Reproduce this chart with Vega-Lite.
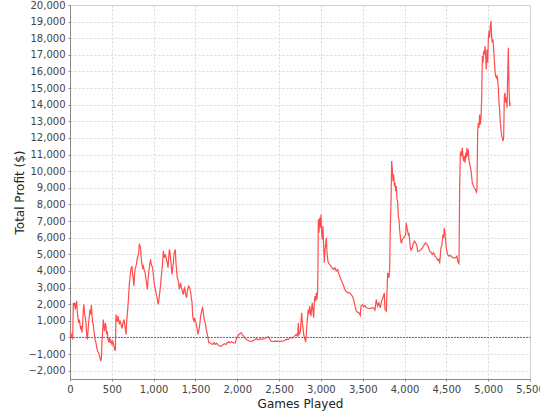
{
  "$schema": "https://vega.github.io/schema/vega-lite/v6.json",
  "width": 460,
  "height": 374,
  "autosize": {"type": "none"},
  "padding": {"left": 70, "top": 5, "right": 10, "bottom": 41},
  "background": "white",
  "config": {
    "view": {"stroke": "#c8c8c8", "strokeWidth": 1},
    "font": "DejaVu Sans",
    "axis": {
      "labelFont": "DejaVu Sans",
      "labelFontSize": 10,
      "labelColor": "#444444",
      "labelOverlap": false,
      "titleFont": "DejaVu Sans",
      "titleFontSize": 12,
      "titleFontWeight": "normal",
      "titleColor": "#222222",
      "domainColor": "#888888",
      "tickColor": "#888888",
      "tickSize": 2,
      "labelPadding": 3,
      "gridColor": "#d8d8d8",
      "gridDash": [2, 2],
      "gridWidth": 1
    }
  },
  "datasets": {
    "profit": [
      {"games":0,"profit":180},{"games":8,"profit":280},{"games":16,"profit":0},{"games":24,"profit":180},{"games":32,"profit":-120},{"games":40,"profit":2085},{"games":48,"profit":1885},{"games":56,"profit":2085},{"games":64,"profit":1685},{"games":72,"profit":1985},{"games":80,"profit":2185},{"games":88,"profit":1480},{"games":96,"profit":1180},{"games":104,"profit":880},{"games":112,"profit":1080},{"games":120,"profit":780},{"games":128,"profit":480},{"games":136,"profit":680},{"games":143,"profit":280},{"games":151,"profit":780},{"games":159,"profit":1685},{"games":167,"profit":1985},{"games":175,"profit":1385},{"games":183,"profit":1180},{"games":191,"profit":880},{"games":199,"profit":180},{"games":207,"profit":-120},{"games":215,"profit":380},{"games":223,"profit":880},{"games":231,"profit":1280},{"games":239,"profit":1685},{"games":247,"profit":1385},{"games":255,"profit":1945},{"games":263,"profit":1385},{"games":271,"profit":880},{"games":279,"profit":780},{"games":287,"profit":380},{"games":295,"profit":80},{"games":303,"profit":-220},{"games":311,"profit":-320},{"games":319,"profit":-620},{"games":327,"profit":-720},{"games":335,"profit":-860},{"games":343,"profit":-920},{"games":351,"profit":-1125},{"games":359,"profit":-1225},{"games":367,"profit":-1425},{"games":375,"profit":-1225},{"games":383,"profit":-220},{"games":390,"profit":380},{"games":398,"profit":1080},{"games":406,"profit":580},{"games":414,"profit":380},{"games":422,"profit":880},{"games":430,"profit":680},{"games":438,"profit":180},{"games":446,"profit":380},{"games":454,"profit":-120},{"games":462,"profit":-220},{"games":470,"profit":-20},{"games":478,"profit":-320},{"games":486,"profit":-120},{"games":494,"profit":-320},{"games":502,"profit":-420},{"games":510,"profit":-180},{"games":518,"profit":-380},{"games":526,"profit":-520},{"games":534,"profit":-720},{"games":542,"profit":-820},{"games":550,"profit":1385},{"games":558,"profit":1080},{"games":566,"profit":940},{"games":574,"profit":1280},{"games":582,"profit":1080},{"games":590,"profit":780},{"games":598,"profit":1020},{"games":606,"profit":880},{"games":614,"profit":680},{"games":622,"profit":540},{"games":630,"profit":780},{"games":638,"profit":940},{"games":646,"profit":1080},{"games":654,"profit":780},{"games":662,"profit":480},{"games":670,"profit":180},{"games":677,"profit":980},{"games":685,"profit":1385},{"games":693,"profit":1885},{"games":701,"profit":2485},{"games":709,"profit":3190},{"games":717,"profit":3590},{"games":725,"profit":3990},{"games":733,"profit":4190},{"games":741,"profit":4290},{"games":749,"profit":3790},{"games":757,"profit":3490},{"games":765,"profit":3090},{"games":773,"profit":3890},{"games":781,"profit":4190},{"games":789,"profit":4290},{"games":797,"profit":4490},{"games":805,"profit":4795},{"games":813,"profit":4895},{"games":821,"profit":5095},{"games":829,"profit":5635},{"games":837,"profit":5495},{"games":845,"profit":5295},{"games":853,"profit":4695},{"games":861,"profit":4390},{"games":869,"profit":4190},{"games":877,"profit":4290},{"games":885,"profit":4090},{"games":893,"profit":3990},{"games":901,"profit":3790},{"games":909,"profit":3490},{"games":917,"profit":3190},{"games":925,"profit":2890},{"games":932,"profit":3390},{"games":940,"profit":3890},{"games":948,"profit":4190},{"games":956,"profit":4490},{"games":964,"profit":4690},
      {"games":972,"profit":4390},{"games":988,"profit":4190},{"games":996,"profit":3790},{"games":1008,"profit":3190},{"games":1020,"profit":2890},{"games":1032,"profit":2585},{"games":1044,"profit":2285},{"games":1056,"profit":1985},{"games":1068,"profit":2485},{"games":1080,"profit":2990},{"games":1092,"profit":3690},{"games":1104,"profit":4290},{"games":1116,"profit":5195},{"games":1128,"profit":4795},{"games":1140,"profit":4995},{"games":1152,"profit":4690},{"games":1164,"profit":4490},{"games":1172,"profit":4190},{"games":1180,"profit":4795},{"games":1188,"profit":5295},{"games":1196,"profit":5095},{"games":1204,"profit":4690},{"games":1212,"profit":4190},{"games":1220,"profit":3790},{"games":1228,"profit":4190},{"games":1236,"profit":4490},{"games":1243,"profit":4995},{"games":1251,"profit":5195},{"games":1259,"profit":5295},{"games":1267,"profit":4490},{"games":1275,"profit":3990},{"games":1283,"profit":3590},{"games":1291,"profit":3490},{"games":1299,"profit":3290},{"games":1307,"profit":2890},{"games":1315,"profit":3090},{"games":1323,"profit":3290},{"games":1331,"profit":2990},{"games":1339,"profit":2890},{"games":1347,"profit":2690},{"games":1355,"profit":2585},{"games":1363,"profit":2890},{"games":1371,"profit":2990},{"games":1379,"profit":2690},{"games":1387,"profit":2485},{"games":1395,"profit":2385},{"games":1403,"profit":2785},{"games":1411,"profit":2950},{"games":1419,"profit":3090},{"games":1427,"profit":3030},{"games":1435,"profit":2890},{"games":1443,"profit":2690},{"games":1451,"profit":2385},{"games":1459,"profit":2085},{"games":1467,"profit":1285},{"games":1475,"profit":1080},{"games":1483,"profit":980},{"games":1490,"profit":1180},{"games":1498,"profit":1020},{"games":1506,"profit":880},{"games":1514,"profit":680},{"games":1522,"profit":480},{"games":1530,"profit":180},{"games":1538,"profit":380},{"games":1546,"profit":580},{"games":1554,"profit":880},{"games":1562,"profit":1285},{"games":1570,"profit":1485},{"games":1578,"profit":1685},{"games":1586,"profit":1785},{"games":1594,"profit":1485},{"games":1602,"profit":1180},{"games":1610,"profit":980},{"games":1618,"profit":880},{"games":1626,"profit":580},{"games":1634,"profit":380},{"games":1642,"profit":180},{"games":1650,"profit":-20},{"games":1658,"profit":-320},{"games":1674,"profit":-320},{"games":1690,"profit":-380},{"games":1706,"profit":-420},{"games":1722,"profit":-320},{"games":1738,"profit":-420},{"games":1754,"profit":-340},{"games":1769,"profit":-460},{"games":1785,"profit":-500},{"games":1801,"profit":-540},{"games":1817,"profit":-480},{"games":1833,"profit":-420},{"games":1849,"profit":-380},{"games":1865,"profit":-420},{"games":1881,"profit":-320},{"games":1897,"profit":-260},{"games":1913,"profit":-320},{"games":1929,"profit":-260},{"games":1945,"profit":-300},{"games":1961,"profit":-340},{"games":1977,"profit":-320},
      {"games":1993,"profit":-20},{"games":2013,"profit":120},{"games":2029,"profit":220},{"games":2045,"profit":280},{"games":2060,"profit":180},{"games":2076,"profit":80},{"games":2092,"profit":-20},{"games":2108,"profit":-120},{"games":2132,"profit":-180},{"games":2156,"profit":-240},{"games":2180,"profit":-220},{"games":2204,"profit":-160},{"games":2228,"profit":-80},{"games":2252,"profit":-140},{"games":2276,"profit":-80},{"games":2299,"profit":-120},{"games":2323,"profit":-60},{"games":2347,"profit":-20},{"games":2371,"profit":40},{"games":2387,"profit":-80},{"games":2403,"profit":-220},{"games":2435,"profit":-240},{"games":2467,"profit":-220},{"games":2499,"profit":-240},{"games":2531,"profit":-220},{"games":2562,"profit":-200},{"games":2586,"profit":-120},{"games":2610,"profit":-120},{"games":2634,"profit":0},{"games":2658,"profit":-40},{"games":2682,"profit":80},{"games":2706,"profit":180},{"games":2722,"profit":80},{"games":2730,"profit":880},{"games":2738,"profit":180},{"games":2754,"profit":320},{"games":2770,"profit":1480},{"games":2778,"profit":880},{"games":2786,"profit":580},{"games":2794,"profit":180},{"games":2802,"profit":-20},{"games":2810,"profit":-120},{"games":2818,"profit":-280},{"games":2826,"profit":280},{"games":2834,"profit":880},{"games":2842,"profit":1280},{"games":2849,"profit":1685},{"games":2857,"profit":1385},{"games":2865,"profit":1885},{"games":2873,"profit":1585},{"games":2881,"profit":1280},{"games":2889,"profit":1785},{"games":2897,"profit":2085},{"games":2905,"profit":1585},{"games":2913,"profit":1180},{"games":2921,"profit":2085},{"games":2929,"profit":2485},{"games":2937,"profit":2185},{"games":2945,"profit":2690},{"games":2953,"profit":2285},{"games":2961,"profit":2790},
      {"games":2965,"profit":4291},{"games":2969,"profit":7099},{"games":2977,"profit":6297},{"games":2985,"profit":7200},{"games":2993,"profit":6598},{"games":3001,"profit":7400},{"games":3009,"profit":6297},{"games":3017,"profit":5896},{"games":3025,"profit":6698},{"games":3033,"profit":5495},{"games":3041,"profit":4492},{"games":3049,"profit":5294},{"games":3057,"profit":5595},{"games":3065,"profit":5996},{"games":3073,"profit":5093},{"games":3081,"profit":4692},{"games":3089,"profit":4492},{"games":3104,"profit":4391},{"games":3120,"profit":4291},{"games":3136,"profit":4191},{"games":3152,"profit":4090},{"games":3168,"profit":4191},{"games":3184,"profit":3990},{"games":3200,"profit":4090},{"games":3216,"profit":3790},{"games":3232,"profit":3589},{"games":3248,"profit":3388},{"games":3264,"profit":3188},{"games":3280,"profit":2987},{"games":3296,"profit":2787},{"games":3312,"profit":2726},{"games":3328,"profit":2686},{"games":3344,"profit":2686},{"games":3359,"profit":2586},{"games":3375,"profit":2486},{"games":3391,"profit":2285},{"games":3407,"profit":1884},{"games":3423,"profit":1583},{"games":3439,"profit":1523},{"games":3455,"profit":1483},{"games":3471,"profit":1322},{"games":3479,"profit":1884},{"games":3495,"profit":1984},{"games":3511,"profit":1844},{"games":3527,"profit":1924},{"games":3543,"profit":1783},{"games":3559,"profit":1763},{"games":3583,"profit":1743},{"games":3607,"profit":1783},{"games":3630,"profit":1783},{"games":3646,"profit":1643},{"games":3662,"profit":2285},{"games":3678,"profit":1884},{"games":3694,"profit":2085},{"games":3710,"profit":1783},{"games":3726,"profit":2185},{"games":3742,"profit":2385},{"games":3758,"profit":2686},{"games":3766,"profit":1683},{"games":3782,"profit":1583},
      {"games":3798,"profit":3889},{"games":3814,"profit":3589},{"games":3822,"profit":4090},{"games":3830,"profit":6698},{"games":3838,"profit":8102},{"games":3846,"profit":10610},{"games":3854,"profit":10108},{"games":3862,"profit":9406},{"games":3870,"profit":9807},{"games":3878,"profit":9105},{"games":3886,"profit":9306},{"games":3894,"profit":8804},{"games":3902,"profit":9105},{"games":3909,"profit":8303},{"games":3917,"profit":8202},{"games":3925,"profit":7300},{"games":3933,"profit":7099},{"games":3941,"profit":6497},{"games":3949,"profit":6096},{"games":3957,"profit":5735},{"games":3965,"profit":5695},{"games":3973,"profit":5895},{"games":3989,"profit":5996},{"games":4005,"profit":6096},{"games":4013,"profit":6196},{"games":4021,"profit":6898},{"games":4029,"profit":6597},{"games":4045,"profit":6196},{"games":4053,"profit":6297},{"games":4061,"profit":5895},{"games":4069,"profit":5394},{"games":4077,"profit":5253},{"games":4093,"profit":5394},{"games":4101,"profit":5594},{"games":4117,"profit":5795},{"games":4133,"profit":5695},{"games":4149,"profit":5494},{"games":4157,"profit":5193},{"games":4172,"profit":5193},{"games":4188,"profit":5253},{"games":4204,"profit":5334},{"games":4220,"profit":5434},{"games":4236,"profit":5574},{"games":4252,"profit":5695},{"games":4268,"profit":5594},{"games":4284,"profit":5454},{"games":4300,"profit":5193},{"games":4316,"profit":5133},{"games":4332,"profit":4993},{"games":4348,"profit":5093},{"games":4364,"profit":4892},{"games":4380,"profit":4792},{"games":4396,"profit":4652},{"games":4412,"profit":4692},{"games":4420,"profit":4451},{"games":4428,"profit":4892},{"games":4435,"profit":5394},{"games":4443,"profit":5494},{"games":4451,"profit":5795},{"games":4459,"profit":6196},{"games":4467,"profit":5996},{"games":4475,"profit":6597},{"games":4483,"profit":6297},{"games":4491,"profit":5855},{"games":4499,"profit":5394},{"games":4507,"profit":5193},{"games":4515,"profit":4993},{"games":4531,"profit":4892},{"games":4547,"profit":4932},{"games":4563,"profit":4852},{"games":4587,"profit":4792},{"games":4611,"profit":4792},{"games":4627,"profit":4892},{"games":4635,"profit":4591},{"games":4651,"profit":4451},{"games":4659,"profit":9105},
      {"games":4667,"profit":11010},{"games":4675,"profit":11210},{"games":4683,"profit":10910},{"games":4691,"profit":11411},{"games":4699,"profit":10809},{"games":4707,"profit":10609},{"games":4715,"profit":10910},{"games":4723,"profit":10508},{"games":4731,"profit":11110},{"games":4738,"profit":10809},{"games":4746,"profit":11411},{"games":4754,"profit":10910},{"games":4762,"profit":11311},{"games":4770,"profit":10709},{"games":4778,"profit":10468},{"games":4786,"profit":10268},{"games":4794,"profit":10067},{"games":4802,"profit":9706},{"games":4810,"profit":9305},{"games":4818,"profit":9205},{"games":4826,"profit":9104},{"games":4834,"profit":9004},{"games":4842,"profit":8944},{"games":4850,"profit":8864},{"games":4858,"profit":8743},{"games":4866,"profit":8904},{"games":4874,"profit":12314},{"games":4882,"profit":12916},{"games":4890,"profit":12615},{"games":4898,"profit":13417},{"games":4906,"profit":12815},{"games":4914,"profit":13216},{"games":4922,"profit":14320},{"games":4930,"profit":16928},{"games":4938,"profit":16526},{"games":4946,"profit":17229},{"games":4954,"profit":17028},{"games":4962,"profit":17529},{"games":4970,"profit":16928},{"games":4978,"profit":16125},{"games":4986,"profit":17329},{"games":4994,"profit":16526},{"games":5002,"profit":17932},{"games":5010,"profit":18432},{"games":5017,"profit":18031},{"games":5025,"profit":18733},{"games":5033,"profit":19034},{"games":5041,"profit":18131},{"games":5049,"profit":17730},{"games":5057,"profit":17931},{"games":5065,"profit":17429},{"games":5073,"profit":16727},{"games":5081,"profit":16025},{"games":5089,"profit":15724},{"games":5097,"profit":15624},{"games":5105,"profit":15724},{"games":5113,"profit":15523},{"games":5121,"profit":15022},{"games":5129,"profit":14119},{"games":5137,"profit":13718},{"games":5145,"profit":12916},{"games":5153,"profit":12514},{"games":5161,"profit":12113},{"games":5169,"profit":12013},{"games":5177,"profit":11812},{"games":5185,"profit":12013},{"games":5193,"profit":14520},{"games":5201,"profit":14721},{"games":5209,"profit":14119},{"games":5217,"profit":14420},{"games":5225,"profit":13818},{"games":5233,"profit":15724},{"games":5241,"profit":17429},{"games":5249,"profit":14922},{"games":5257,"profit":13918},{"games":5265,"profit":14119}
    ],
    "zero": [{"games": 0, "profit": 0}, {"games": 5500, "profit": 0}]
  },
  "encoding": {
    "x": {
      "field": "games", "type": "quantitative", "title": "Games Played",
      "scale": {"domain": [0, 5500], "nice": false, "zero": false},
      "axis": {"values": [0,500,1000,1500,2000,2500,3000,3500,4000,4500,5000,5500], "format": ",d", "titlePadding": 4, "labelFlush": false, "labelOverlap": false}
    },
    "y": {
      "field": "profit", "type": "quantitative", "title": "Total Profit ($)",
      "scale": {"domain": [-2500, 20000], "nice": false, "zero": false},
      "axis": {"values": [-2000,-1000,0,1000,2000,3000,4000,5000,6000,7000,8000,9000,10000,11000,12000,13000,14000,15000,16000,17000,18000,19000,20000], "tickCount": 23, "format": ",d", "titlePadding": 1, "labelFlush": false, "labelOverlap": false, "labelBound": false}
    }
  },
  "layer": [
    {
      "data": {"name": "profit"},
      "mark": {"type": "line", "strokeWidth": 1.2, "interpolate": "linear", "stroke": "#ff4d4d"}
    },
    {
      "data": {"name": "zero"},
      "mark": {"type": "line", "strokeWidth": 1, "strokeDash": [2, 1], "stroke": "#5a5aff"}
    }
  ]
}
